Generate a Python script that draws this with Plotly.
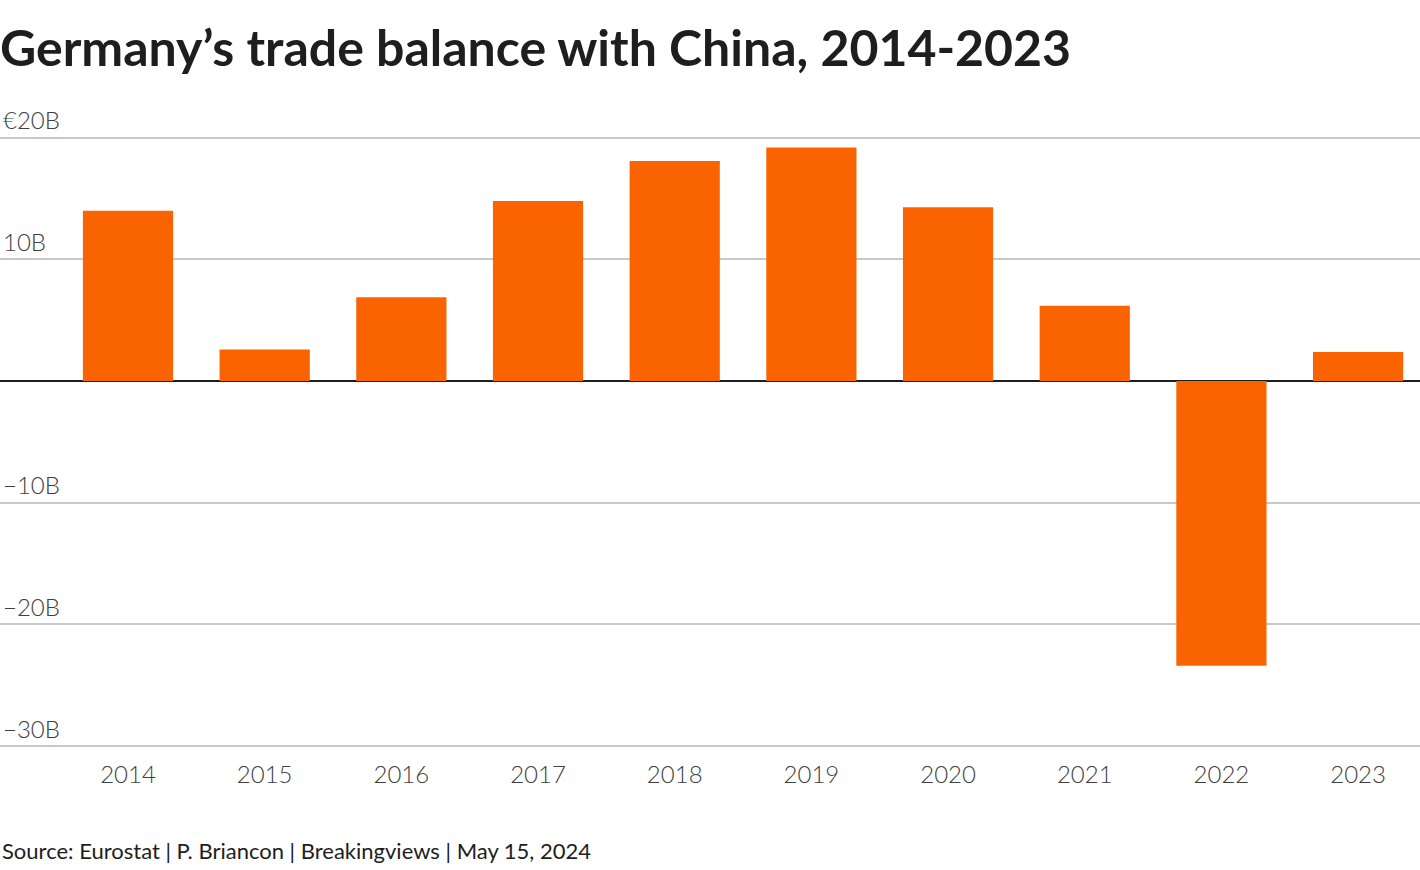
import plotly.graph_objects as go

years = ["2014", "2015", "2016", "2017", "2018", "2019", "2020", "2021", "2022", "2023"]
balance_bn = [14.0, 2.6, 6.9, 14.8, 18.1, 19.2, 14.3, 6.2, -23.4, 2.4]
ytick_vals = [-30, -20, -10, 0, 10, 20]
ytick_text = ["−30B", "−20B", "−10B", "", "10B", "€20B"]

FONT = "Lato"
PX_PER_UNIT = 12.16
Y_LO, Y_HI = -30.5, 22.7

fig = go.Figure()
fig.add_trace(go.Bar(
    x=list(range(len(years))), y=balance_bn,
    marker=dict(color="#F96400", line=dict(width=0)),
    width=0.66, hoverinfo="skip",
))

top_margin = 137.7 - (Y_HI - 20) * PX_PER_UNIT
bottom_margin = 870 - 745.7 - (-30 - Y_LO) * PX_PER_UNIT
plot_h = 870 - top_margin - bottom_margin
plot_bottom_px = 870 - bottom_margin
source_y = -(850 - plot_bottom_px) / plot_h

fig.update_layout(
    width=1420, height=870,
    margin=dict(l=0, r=0, t=top_margin, b=bottom_margin),
    paper_bgcolor="white", plot_bgcolor="white",
    showlegend=False,
    font=dict(family=FONT, color="#333333"),
    title=dict(text="<b>Germany’s trade balance with China, 2014-2023</b>",
               x=0, xref="paper", xanchor="left", y=0.964, yref="container", yanchor="top",
               font=dict(family=FONT, size=50, color="#1e1e1e")),
    xaxis=dict(range=[-0.9366, 9.453], tickmode="array",
               tickvals=list(range(len(years))), ticktext=years,
               showgrid=False, zeroline=False, showline=False, ticks="",
               ticklabelstandoff=6,
               tickfont=dict(family=FONT, size=24, color="#404040", weight=300)),
    yaxis=dict(range=[Y_LO, Y_HI], tickmode="array", tickvals=ytick_vals, ticktext=ytick_text,
               ticklabelposition="inside top", showgrid=True, gridcolor="#c8c8c8", gridwidth=2,
               zeroline=True, zerolinecolor="#1e1e1e", zerolinewidth=2, showline=False, ticks="",
               tickfont=dict(family=FONT, size=24, color="#404040", weight=300)),
    annotations=[dict(text="Source: Eurostat | P. Briancon | Breakingviews | May 15, 2024",
                      xref="paper", yref="paper", x=0, y=source_y,
                      xanchor="left", yanchor="middle",
                      showarrow=False, font=dict(family=FONT, size=22, color="#1e1e1e"))],
)

fig.write_html("out.html", config={"displayModeBar": False},
               post_script="document.body.style.margin='0';document.body.style.overflow='hidden';")
